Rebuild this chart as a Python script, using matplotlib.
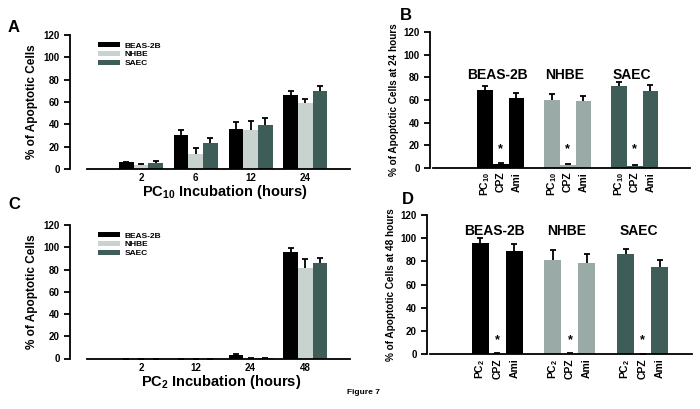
import numpy as np
import matplotlib
matplotlib.use("Agg")
import matplotlib.pyplot as plt

plt.rcParams['font.family'] = ['Liberation Sans', 'DejaVu Sans']
plt.rcParams['font.weight'] = 'bold'
plt.rcParams['mathtext.fontset'] = 'custom'
plt.rcParams['mathtext.rm'] = 'Liberation Sans:bold'
plt.rcParams['mathtext.bf'] = 'Liberation Sans:bold'
plt.rcParams['mathtext.default'] = 'bf'

# ---- data ----
cell_lines = ['BEAS-2B', 'NHBE', 'SAEC']

# panel A: PC10 time course
a_hours = ['2', '6', '12', '24']
a_beas = [6, 30, 36, 66.6]
a_beas_err = [0.6, 5, 6.3, 3.6]
a_nhbe = [3.6, 13.4, 35, 59.4]
a_nhbe_err = [0.6, 5.7, 7.8, 3.3]
a_saec = [5, 23, 39, 69.6]
a_saec_err = [2, 4.8, 6.3, 4.8]

# panel C: PC2 time course
c_hours = ['2', '12', '24', '48']
c_beas = [0, 0, 3, 95.4]
c_beas_err = [0, 0, 1.2, 3.6]
c_nhbe = [0, 0, 0.5, 81]
c_nhbe_err = [0, 0, 0.3, 8]
c_saec = [0, 0, 0.2, 85.5]
c_saec_err = [0, 0, 0.2, 4.5]

# panel B: 24 h, PC10 / CPZ / Ami
treat_b = ['PC$_{10}$', 'CPZ', 'Ami']
b_vals = [[68.6, 3.5, 61.5], [60.4, 2.7, 59.5], [72, 1.5, 68]]
b_errs = [[3.9, 0.9, 4.5], [4.6, 0.6, 4.1], [4.3, 0.5, 5]]

# panel D: 48 h, PC2 / CPZ / Ami
treat_d = ['PC$_{2}$', 'CPZ', 'Ami']
d_vals = [[95.7, 0.5, 89], [81, 0.5, 78.4], [86, 0.3, 75.3]]
d_errs = [[4.3, 0.3, 5.8], [9, 0.3, 8.1], [4.5, 0.2, 5.7]]

W, H = 700, 409
fig = plt.figure(figsize=(7, 4.09), dpi=100)


def px_axes(x0, x1, y_top, y_bot):
    return fig.add_axes([x0 / W, (H - y_bot) / H, (x1 - x0) / W, (y_bot - y_top) / H])


def style(ax):
    for s in ['top', 'right']:
        ax.spines[s].set_visible(False)
    ax.spines['left'].set_linewidth(1.3)
    ax.spines['bottom'].set_linewidth(1.3)
    ax.set_ylim(0, 120)
    ax.set_yticks(range(0, 121, 20))
    ax.tick_params(axis='y', labelsize=7, width=1.3, length=4)
    for lab in ax.get_yticklabels():
        lab.set_fontweight('bold')


def upper_err(ax, x, vals, err):
    # prism style: only the upper whisker + cap
    eb = ax.errorbar(x, vals, yerr=[np.zeros(len(err)), err], fmt='none',
                     ecolor='black', elinewidth=1.3, capthick=1.3, capsize=2.5)
    eb[1][0].set_visible(False)


col_a = ['#000000', '#c8d2ce', '#3e5c58']
col_b = ['#000000', '#9aaaa6', '#3e5c58']


def timecourse(ax, hours, series, errs, xlabel, xlab_pos):
    w = 0.268
    x = np.arange(len(hours))
    for i, (vals, err) in enumerate(zip(series, errs)):
        ax.bar(x + (i - 1) * w, vals, width=w, color=col_a[i], label=cell_lines[i])
        upper_err(ax, x + (i - 1) * w, vals, err)
    ax.set_xlim(-1.296, 3.814)
    ax.spines['bottom'].set_bounds(-0.985, 3.814)
    ax.set_xticks(x)
    ax.set_xticklabels(hours, fontsize=7, fontweight='bold')
    ax.tick_params(axis='x', length=0, pad=3)
    ax.set_xlabel(xlabel, fontsize=10.5, fontweight='bold', labelpad=0)
    ax.xaxis.label.set_x(xlab_pos)
    ax.set_ylabel('% of Apoptotic Cells', fontsize=8.5, fontweight='bold', labelpad=4)
    leg = ax.legend(loc='upper left', bbox_to_anchor=(0.08, 0.99), frameon=False,
                    fontsize=6, handlelength=2.6, handleheight=0.55,
                    labelspacing=0.15, handletextpad=0.6, borderpad=0.2)
    for t in leg.get_texts():
        t.set_fontweight('bold')


def treatment(ax, vals, errs, labels, xlim, label_y, star_y, ylabel):
    gap = 4.27
    ticks, ticklabels = [], []
    for g in range(3):
        x = g * gap + np.arange(3)
        ax.bar(x, vals[g], width=1.0, color=col_b[g])
        upper_err(ax, x, vals[g], errs[g])
        ticks += list(x)
        ticklabels += labels
        ax.text(x[1] - 0.2, label_y, cell_lines[g], ha='center', va='center',
                fontsize=10, fontweight='bold')
        ax.text(x[1], star_y, '*', ha='center', va='center', fontsize=9, fontweight='bold')
    ax.set_xlim(*xlim)
    ax.spines['bottom'].set_bounds(xlim[0] + 0.2, xlim[1])
    ax.set_xticks(ticks)
    ax.set_xticklabels(ticklabels, rotation=90, fontsize=7.5, fontweight='bold')
    ax.tick_params(axis='x', length=0, pad=3)
    ax.set_ylabel(ylabel, fontsize=7.2, fontweight='bold', labelpad=3)


axA = px_axes(70, 350, 35, 169)
style(axA)
timecourse(axA, a_hours, [a_beas, a_nhbe, a_saec], [a_beas_err, a_nhbe_err, a_saec_err],
           'PC$_{10}$ Incubation (hours)', 0.554)

axC = px_axes(70, 350, 225, 358.5)
style(axC)
timecourse(axC, c_hours, [c_beas, c_nhbe, c_saec], [c_beas_err, c_nhbe_err, c_saec_err],
           'PC$_{2}$ Incubation (hours)', 0.54)

axB = px_axes(430, 690, 32.3, 167.7)
style(axB)
treatment(axB, b_vals, b_errs, treat_b, (-3.5, 13.06), 82, 16,
          '% of Apoptotic Cells at 24 hours')

axD = px_axes(427, 692, 215, 354.3)
style(axD)
treatment(axD, d_vals, d_errs, treat_d, (-3.14, 12.45), 106, 12,
          '% of Apoptotic Cells at 48 hours')

for letter, x, y in [('A', 14, 27), ('B', 406, 16), ('C', 14, 204), ('D', 408, 200)]:
    fig.text(x / W, 1 - y / H, letter, fontsize=12, fontweight='bold', ha='center', va='center')
fig.text(363 / W, 1 - 393 / H, 'Figure 7', fontsize=6, fontweight='bold', ha='center', va='center')

fig.savefig('out.png', dpi=100)
